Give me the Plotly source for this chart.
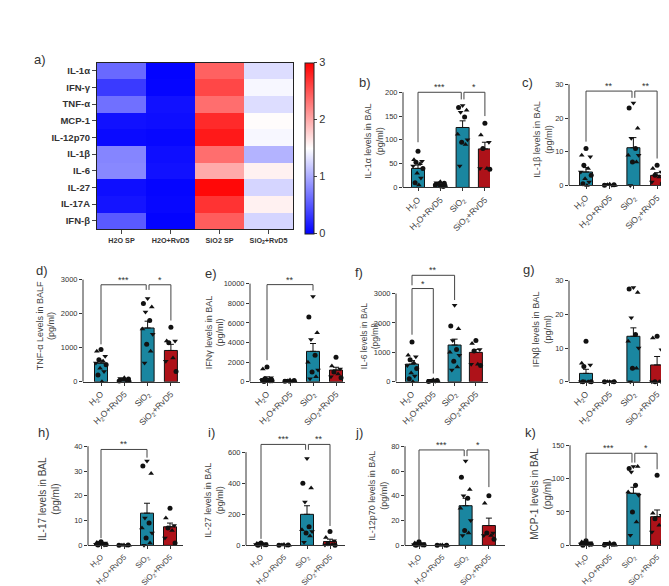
import plotly.graph_objects as go

W, H = 669, 586
FONT = "Liberation Sans, Arial, sans-serif"
TEAL = "#1a86a0"
RED = "#ae1219"

# ---------------- heatmap data (panel a) ----------------
heat_rows = ["IL-1α", "IFN-γ", "TNF-α", "MCP-1", "IL-12p70", "IL-1β", "IL-6", "IL-27", "IL-17A", "IFN-β"]
heat_cols = ["H2O SP", "H2O+RvD5", "SiO2 SP", "SiO<sub>2</sub>+RvD5"]
heat_h2o_sp = [0.62, 0.34, 0.66, 0.10, 0.06, 0.78, 0.80, 0.08, 0.12, 0.53]
heat_h2o_rvd5 = [0.02, 0.03, 0.10, 0.08, 0.04, 0.08, 0.10, 0.03, 0.04, 0.02]
heat_sio2_sp = [2.43, 2.58, 2.35, 2.75, 2.85, 2.35, 2.00, 2.95, 2.70, 2.45]
heat_sio2_rvd5 = [1.30, 1.45, 1.30, 1.52, 1.45, 1.05, 1.58, 1.25, 1.58, 1.25]

# ---------------- bar panel data ----------------
groups = ["H<sub>2</sub>O", "H<sub>2</sub>O+RvD5", "SiO<sub>2</sub>", "SiO<sub>2</sub>+RvD5"]

il1a_mean = [40, 6.5, 126, 81]
il1a_sem = [7, 1.2, 14, 14]
il1a_pts = [[76, 58, 55, 53, 50, 45, 40, 30, 20, 10, 5], [12, 10, 9, 8, 6, 5, 4, 3, 2],
            [172, 168, 162, 158, 148, 112, 100, 95, 90, 45], [135, 110, 95, 82, 40, 40, 38]]
il1a_sig = [(0, 2, 200, 95, 185, "***"), (2, 3, 200, 185, 150, "*")]

il1b_mean = [4, 0.2, 11.2, 3]
il1b_sem = [1.3, 0.1, 3, 0.8]
il1b_pts = [[11, 9, 8.5, 6, 5, 4, 3, 2, 1, 0.5, 0], [0.4, 0.3, 0.2, 0.2, 0.1, 0.1, 0],
            [24.5, 23, 17, 14, 11, 9, 9, 7, 7, 0], [6, 5, 4, 3, 2.5, 1, 0.5]]
il1b_sig = [(0, 2, 28, 13, 26, "**"), (2, 3, 28, 26, 8, "**")]

tnfa_mean = [550, 50, 1580, 920]
tnfa_sem = [80, 15, 200, 180]
tnfa_pts = [[950, 900, 750, 650, 600, 550, 500, 400, 300, 200, 0], [120, 100, 80, 50, 30, 20, 10],
            [2450, 2300, 2200, 2050, 1800, 1550, 1400, 1100, 900, 550], [1600, 1200, 1200, 1150, 700, 600, 300]]
tnfa_sig = [(0, 2, 2850, 1100, 2700, "***"), (2, 3, 2850, 2700, 1800, "*")]

ifng_mean = [330, 80, 3100, 1200]
ifng_sem = [170, 30, 800, 280]
ifng_pts = [[1500, 1300, 400, 300, 200, 150, 100, 80, 50, 30, 0], [180, 150, 120, 100, 80, 50, 30, 10],
            [8700, 6600, 5000, 4300, 2700, 2000, 1200, 1000, 500, 300], [2500, 1600, 1300, 1000, 800, 500, 400]]
ifng_sig = [(0, 2, 9900, 2200, 9300, "**")]

il6_mean = [600, 30, 1250, 1000]
il6_sem = [120, 10, 200, 100]
il6_pts = [[1350, 900, 850, 750, 650, 550, 450, 300, 200, 100, 0], [70, 50, 40, 30, 20, 10, 0],
           [2600, 1900, 1800, 1400, 1100, 1000, 900, 700, 500, 400], [1400, 1300, 1100, 1050, 600, 600, 550]]
il6_sig = [(0, 1, 3170, 1600, 280, "*"), (0, 2, 3620, 3280, 2780, "**")]

ifnb_mean = [2.5, 0.1, 13.5, 5]
ifnb_sem = [1.2, 0.05, 2.5, 2.5]
ifnb_pts = [[12, 5.5, 5, 4.5, 0, 0, 0, 0, 0, 0], [0, 0, 0, 0, 0, 0, 0],
            [28, 27.5, 26.5, 19, 14, 12, 10, 4, 4, 0], [13.5, 13, 9.5, 0, 0, 0, 0]]
ifnb_sig = []

il17_mean = [0.7, 0.1, 13, 7.5]
il17_sem = [0.2, 0.05, 4, 1.5]
il17_pts = [[1.5, 1.2, 1, 0.8, 0.6, 0.5, 0.4, 0.3, 0.2, 0.1], [0.2, 0.1, 0.1, 0, 0, 0, 0],
            [34, 32, 29, 11, 9, 7, 5, 3, 1, 0], [15, 11, 8, 7, 6, 3, 1]]
il17_sig = [(0, 2, 38.7, 2.9, 35.4, "**")]

il27_mean = [6, 2, 200, 25]
il27_sem = [2, 1, 55, 15]
il27_pts = [[15, 12, 10, 8, 6, 5, 4, 3, 2, 1], [5, 4, 3, 2, 1, 0, 0],
            [560, 400, 370, 280, 120, 100, 90, 80, 60, 20], [90, 50, 30, 10, 5, 3, 0]]
il27_sig = [(0, 2, 650, 42, 615, "***"), (2, 3, 650, 615, 125, "**")]

il12_mean = [0.8, 0.1, 32, 16]
il12_sem = [0.4, 0.05, 6, 6]
il12_pts = [[3, 2, 1.5, 1, 0.8, 0.5, 0.3, 0, 0, 0], [0.3, 0.2, 0.1, 0, 0, 0, 0],
            [68, 55, 45, 40, 38, 30, 20, 12, 10, 8], [40, 34, 10, 10, 8, 8, 5]]
il12_sig = [(0, 2, 77, 4.5, 72, "***"), (2, 3, 77, 72, 47, "*")]

mcp1_mean = [3, 2, 78, 43]
mcp1_sem = [0.8, 0.5, 9, 10]
mcp1_pts = [[7, 5, 4, 3, 2.5, 2, 1.5, 1, 0.5, 0], [4, 3, 2, 1.5, 1, 0.5, 0],
            [118, 115, 118, 110, 90, 80, 75, 50, 35, 15], [105, 48, 45, 40, 30, 20, 5]]
mcp1_sig = [(0, 2, 138, 8.4, 124, "***"), (2, 3, 138, 124, 114, "*")]

y_titles = {
    "b": "IL-1α levels in BAL<br>(pg/ml)", "c": "IL-1β levels in BAL<br>(pg/ml)",
    "d": "TNF-α Levels in BALF<br>(pg/ml)", "e": "IFNγ levels in BAL<br>(pg/ml)",
    "f": "IL-6 levels in BAL<br>(pg/ml)", "g": "IFNβ levels in BAL<br>(pg/ml)",
    "h": "IL-17 levels in BAL<br>(pg/ml)", "i": "IL-27 levels in BAL<br>(pg/ml)",
    "j": "IL-12p70 levels in BAL<br>(pg/ml)", "k": "MCP-1 levels in BAL<br>(pg/ml)",
}
y_ticks = {
    "b": [0, 50, 100, 150, 200], "c": [0, 10, 20, 30], "d": [0, 1000, 2000, 3000],
    "e": [0, 2000, 4000, 6000, 8000, 10000], "f": [0, 1000, 2000, 3000], "g": [0, 10, 20, 30],
    "h": [0, 10, 20, 30, 40], "i": [0, 200, 400, 600], "j": [0, 20, 40, 60, 80], "k": [0, 50, 100, 150],
}
panel_data = {
    "b": (il1a_mean, il1a_sem, il1a_pts, il1a_sig), "c": (il1b_mean, il1b_sem, il1b_pts, il1b_sig),
    "d": (tnfa_mean, tnfa_sem, tnfa_pts, tnfa_sig), "e": (ifng_mean, ifng_sem, ifng_pts, ifng_sig),
    "f": (il6_mean, il6_sem, il6_pts, il6_sig), "g": (ifnb_mean, ifnb_sem, ifnb_pts, ifnb_sig),
    "h": (il17_mean, il17_sem, il17_pts, il17_sig), "i": (il27_mean, il27_sem, il27_pts, il27_sig),
    "j": (il12_mean, il12_sem, il12_pts, il12_sig), "k": (mcp1_mean, mcp1_sem, mcp1_pts, mcp1_sig),
}

# ---------------- layout geometry (pixels) ----------------
# key: (axis left, axis right, y0 px, max tick px, first bar centre, bar spacing,
#       title centre x, title centre y, title font, letter x, letter y, x tick font)
geom = {
    "b": (395, 482, 181, 85, 410, 22.3, 366, 135, 9.0, 357, 75, 8.6),
    "c": (561, 657, 179, 77, 578, 23.7, 535, 133, 9.2, 519, 75, 8.6),
    "d": (75, 172, 377, 274, 93, 23.3, 38, 321, 9.0, 34, 265, 8.6),
    "e": (242, 337, 377, 278, 259, 23.0, 207, 327, 9.0, 203, 268, 8.6),
    "f": (388, 480, 377, 288, 404, 21.3, 361, 331, 8.5, 351, 267, 8.6),
    "g": (561, 665, 377, 275, 578, 23.7, 534, 324, 9.2, 521, 264, 8.6),
    "h": (80, 175, 542, 442, 93, 23.0, 41, 495, 10.0, 36, 428, 7.8),
    "i": (238, 337, 542, 448, 253, 23.0, 206, 497, 9.0, 203, 428, 7.8),
    "j": (397, 497, 542, 442, 411, 23.3, 370, 492, 9.0, 351, 428, 7.8),
    "k": (562, 663, 542, 441, 578, 23.7, 533, 490, 10.0, 522, 428, 7.8),
}


def fx(p):
    return p / W


def fy(p):
    return 1 - p / H


fig = go.Figure()
layout = dict(
    width=W, height=H, margin=dict(l=0, r=0, t=0, b=0),
    paper_bgcolor="white", plot_bgcolor="white", showlegend=False,
    barmode="overlay", font=dict(family=FONT, color="#333"),
)
shapes, annotations = [], []

# ---------------- heatmap ----------------
z = [[heat_h2o_sp[r], heat_h2o_rvd5[r], heat_sio2_sp[r], heat_sio2_rvd5[r]] for r in range(len(heat_rows))]
fig.add_trace(go.Heatmap(
    z=z, x=heat_cols, y=heat_rows, zmin=0, zmax=3,
    colorscale=[[0, "#0000ff"], [0.5, "#ffffff"], [1, "#ff0000"]],
    colorbar=dict(x=fx(297), xanchor="left", y=fy(55), yanchor="top", len=172 / H,
                  thickness=9, xpad=0, ypad=0, outlinewidth=1, outlinecolor="#222",
                  tickvals=[0, 1, 2, 3], ticks="outside", ticklen=3,
                  tickfont=dict(size=11, color="#333", family=FONT)),
    xaxis="x", yaxis="y",
))
layout["xaxis"] = dict(domain=[fx(89), fx(285)], anchor="y", showline=True, mirror=True,
                       linecolor="#222", linewidth=1.2, ticks="outside", ticklen=4,
                       tickfont=dict(size=7.2, weight="bold", color="#333"), showgrid=False)
layout["yaxis"] = dict(domain=[fy(223), fy(55)], anchor="x", autorange="reversed", showline=True,
                       mirror=True, linecolor="#222", linewidth=1.2, ticks="outside", ticklen=4,
                       tickfont=dict(size=9.5, weight="bold", color="#333"), showgrid=False)
annotations.append(dict(text="a)", x=fx(32), y=fy(52), xref="paper", yref="paper",
                        xanchor="center", yanchor="middle",
                        showarrow=False, font=dict(size=13, color="#333")))

offsets = [0, -0.18, 0.18, -0.09, 0.09, -0.22, 0.22, -0.04, 0.13, -0.13, 0.04]
symbols = ["circle", "triangle-up", "triangle-down"]

for n, key in enumerate(["b", "c", "d", "e", "f", "g", "h", "i", "j", "k"], start=2):
    mean, sem, pts, sig = panel_data[key]
    L, R, y0, ymp, c0, s, tx, ty, tfs, lx, ly, xfs = geom[key]
    ymax = y_ticks[key][-1]
    vpp = ymax / (y0 - ymp)
    top = ymp - 30
    xa, ya = f"x{n}", f"y{n}"
    fig.add_trace(go.Bar(
        x=[0, 1, 2, 3], y=mean, width=13 / s,
        marker=dict(color=[TEAL, TEAL, TEAL, RED], line=dict(color="#111", width=1)),
        error_y=dict(type="data", array=sem, arrayminus=[0, 0, 0, 0], symmetric=False,
                     color="#111", thickness=1, width=3),
        xaxis=xa, yaxis=ya,
    ))
    for g, vals in enumerate(pts):
        fig.add_trace(go.Scatter(
            x=[g + offsets[k % len(offsets)] for k in range(len(vals))], y=vals, mode="markers",
            marker=dict(color="#111", size=5, symbol=[symbols[(k + g) % 3] for k in range(len(vals))]),
            cliponaxis=False, xaxis=xa, yaxis=ya,
        ))
    layout[f"xaxis{n}"] = dict(
        domain=[fx(L), fx(R)], range=[(L - c0) / s, (R - c0) / s], anchor=ya,
        tickvals=[0, 1, 2, 3], ticktext=groups, tickangle=-45, ticks="outside", ticklen=3,
        tickcolor="#333", showline=True, linecolor="#333", linewidth=1, showgrid=False,
        zeroline=False, tickfont=dict(size=xfs, color="#444"),
    )
    layout[f"yaxis{n}"] = dict(
        domain=[fy(y0), fy(top)], range=[0, (y0 - top) * vpp], anchor=xa,
        tickvals=y_ticks[key], ticktext=[str(v) for v in y_ticks[key]],
        ticks="outside", ticklen=3, tickcolor="#333",
        showline=False, showgrid=False, zeroline=False, tickfont=dict(size=7.5, color="#333"),
    )
    shapes.append(dict(type="line", xref="paper", yref=ya, x0=fx(L), x1=fx(L), y0=0, y1=ymax,
                       line=dict(color="#333", width=1)))
    starts = [b[0] for b in sig]
    ends = [b[1] for b in sig]
    for (i, j, yt, yl, yr, lab) in sig:
        xl = i + (0.06 if i in ends else 0)
        xr = j - (0.06 if j in starts else 0)
        for (x0_, y0_, x1_, y1_) in [(xl, yl, xl, yt), (xl, yt, xr, yt), (xr, yt, xr, yr)]:
            shapes.append(dict(type="line", xref=xa, yref=ya, x0=x0_, y0=y0_, x1=x1_, y1=y1_,
                               line=dict(color="#444", width=1)))
        annotations.append(dict(text=lab, x=(xl + xr) / 2, y=yt, xref=xa, yref=ya, showarrow=False,
                                xanchor="center", yanchor="bottom", yshift=-2,
                                font=dict(size=9, color="#333")))
    annotations.append(dict(text=y_titles[key], x=fx(tx), y=fy(ty), xref="paper", yref="paper",
                            xanchor="center", yanchor="middle",
                            textangle=-90, showarrow=False, font=dict(size=tfs, color="#444")))
    annotations.append(dict(text=key + ")", x=fx(lx), y=fy(ly), xref="paper", yref="paper",
                            xanchor="center", yanchor="middle",
                            showarrow=False, font=dict(size=13, color="#333")))

layout["shapes"] = shapes
layout["annotations"] = annotations
fig.update_layout(**layout)
fig.write_html("out.html")
